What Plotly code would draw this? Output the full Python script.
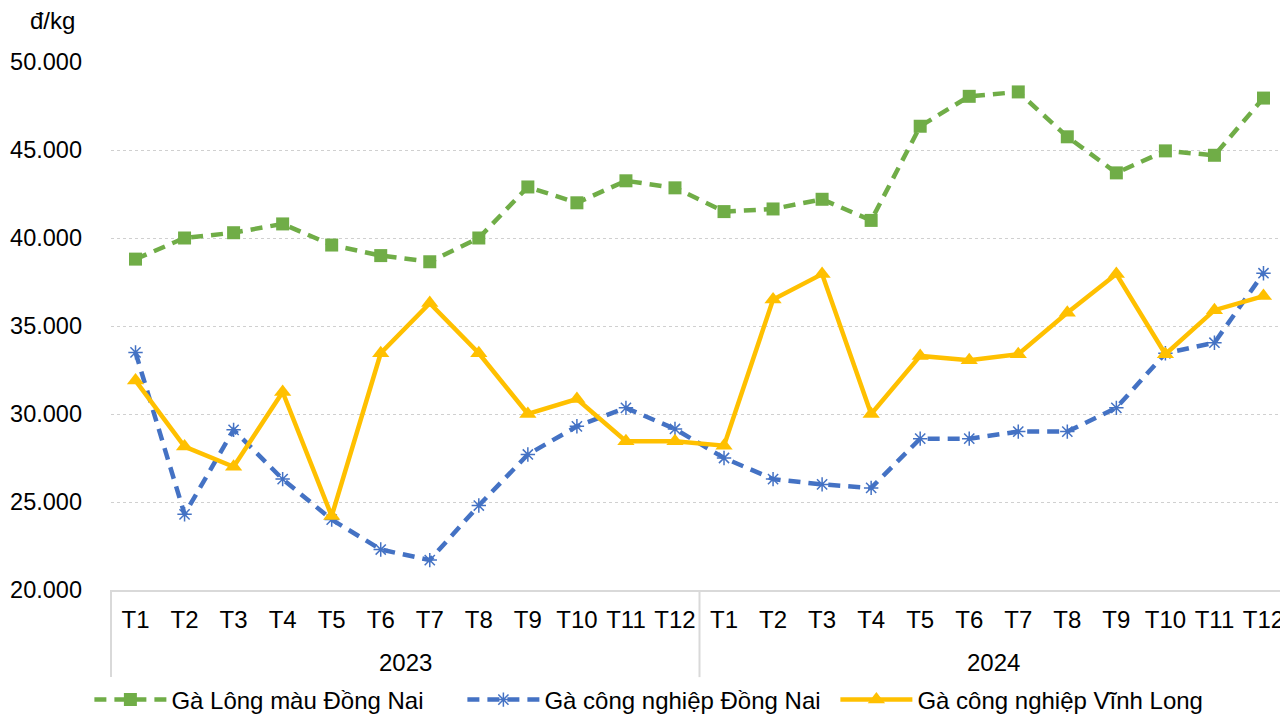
import plotly.graph_objects as go

years = ["2023"] * 12 + ["2024"] * 12
months = ["T1", "T2", "T3", "T4", "T5", "T6", "T7", "T8", "T9", "T10", "T11", "T12"] * 2

ga_long_mau_dong_nai = [38800, 40000, 40300, 40800, 39600, 39000, 38650, 40000, 42900, 42000, 43250, 42850,
                        41500, 41650, 42200, 41000, 46350, 48050, 48300, 45750, 43700, 44950, 44700, 47950]
ga_cn_dong_nai = [33500, 24300, 29100, 26300, 24000, 22300, 21700, 24800, 27700, 29300, 30350, 29150,
                  27500, 26300, 26000, 25800, 28600, 28600, 29000, 29000, 30350, 33450, 34050, 38000]
ga_cn_vinh_long = [31900, 28150, 27000, 31250, 24200, 33450, 36300, 33450, 30000, 30850, 28450, 28450,
                   28200, 36500, 37950, 30000, 33300, 33050, 33400, 35750, 37950, 33400, 35900, 36700]

names = ["Gà Lông màu Đồng Nai", "Gà công nghiệp Đồng Nai", "Gà công nghiệp Vĩnh Long"]

FONT = "Liberation Sans, Arial, sans-serif"
idx = list(range(len(months)))
xmin, xmax = -0.5, len(months) - 0.5

fig = go.Figure()
fig.add_trace(go.Scatter(
    x=idx, y=ga_long_mau_dong_nai, name=names[0], mode="lines+markers",
    line=dict(color="#70AD47", width=4.5, dash="12px,8px"),
    marker=dict(symbol="square", size=13, color="#70AD47"),
))
fig.add_trace(go.Scatter(
    x=idx, y=ga_cn_dong_nai, name=names[1], mode="lines+markers",
    line=dict(color="#4472C4", width=4.5, dash="12px,8px"),
    marker=dict(symbol="asterisk-open", size=12, color="#4472C4",
                line=dict(color="#4472C4", width=1.5)),
))
fig.add_trace(go.Scatter(
    x=idx, y=ga_cn_vinh_long, name=names[2], mode="lines+markers",
    line=dict(color="#FFC000", width=4.5),
    marker=dict(symbol="triangle-up", size=15, color="#FFC000"),
))

# year group labels and dividers
annotations = [dict(text="đ/kg", xref="paper", yref="paper", x=-0.0705, y=1.0795,
                    xanchor="left", yanchor="middle", showarrow=False,
                    font=dict(size=24, family=FONT))]
shapes = []
groups = []
for i, yr in enumerate(years):
    if not groups or groups[-1][0] != yr:
        groups.append([yr, i, i])
    else:
        groups[-1][2] = i
boundaries = set()
for yr, a, b in groups:
    cx = ((a + b) / 2 - xmin) / (xmax - xmin)
    annotations.append(dict(text=yr, xref="paper", yref="paper", x=cx, y=-0.138,
                            xanchor="center", yanchor="middle", showarrow=False,
                            font=dict(size=24, family=FONT)))
    boundaries.add(a - 0.5)
    boundaries.add(b + 0.5)
for bd in sorted(boundaries):
    px = (bd - xmin) / (xmax - xmin)
    shapes.append(dict(type="line", xref="paper", yref="paper", x0=px, x1=px,
                       y0=0, y1=-0.165, line=dict(color="#D9D9D9", width=2)))

# page has an 8px body margin, so the figure is drawn 8px smaller and offset
fig.update_layout(
    width=1280, height=707,
    margin=dict(l=103, r=0, t=54, b=125),
    paper_bgcolor="white", plot_bgcolor="white",
    font=dict(family=FONT, size=24, color="#000000"),
    separators=",.",
    showlegend=True,
    legend=dict(orientation="h", x=0.457, xanchor="center", yref="container",
                y=0.0212, yanchor="middle", itemwidth=72,
                font=dict(size=24), entrywidth=286, entrywidthmode="pixels"),
    annotations=annotations,
    shapes=shapes,
)
fig.update_yaxes(
    range=[20000, 50000], dtick=5000, tickformat=",d",
    showgrid=True, gridcolor="#D0D0D0", griddash="dot", gridwidth=1.3,
    zeroline=False, showline=False, ticklabelstandoff=28,
    tickfont=dict(size=23.5),
)
fig.update_xaxes(
    range=[xmin, xmax], tickvals=idx, ticktext=months,
    showline=True, linecolor="#D9D9D9", linewidth=2,
    showgrid=False, zeroline=False, tickfont=dict(size=24),
    ticklabelstandoff=7,
)

fig.write_html("out.html")
